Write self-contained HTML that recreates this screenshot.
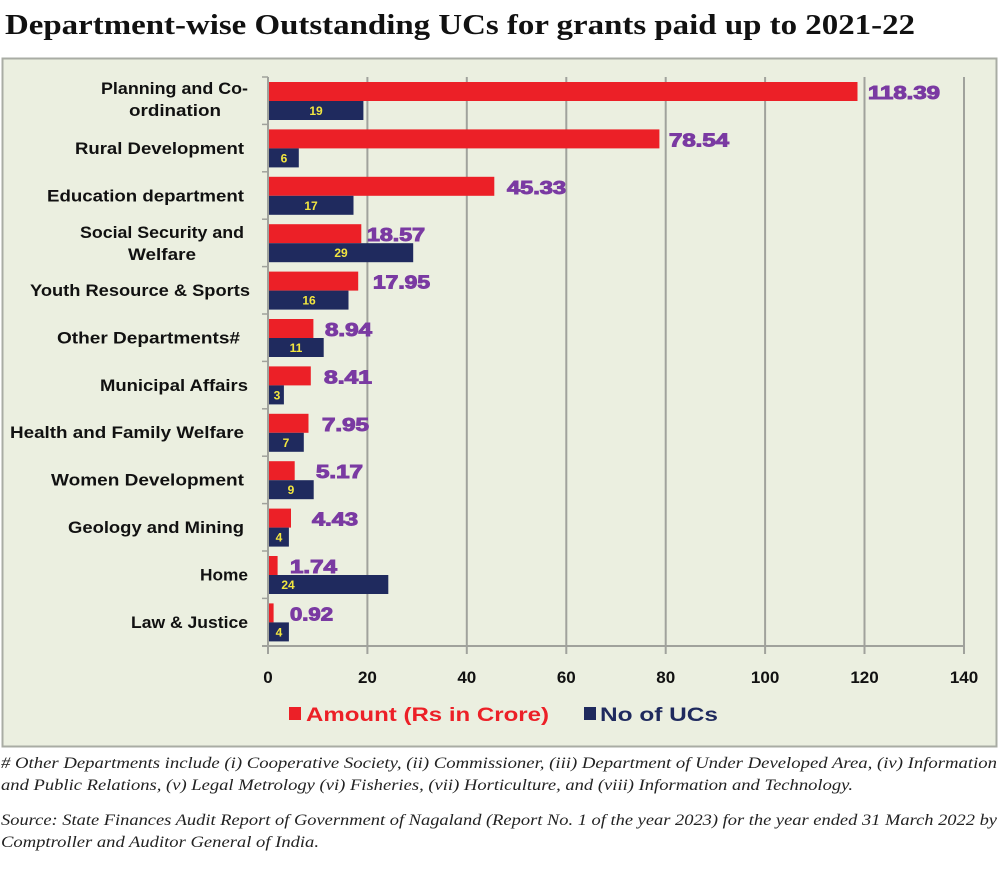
<!DOCTYPE html>
<html><head><meta charset="utf-8"><style>
html,body{margin:0;padding:0;background:#fff;}
svg{display:block}
</style></head><body>
<svg width="1000" height="876" viewBox="0 0 1000 876" xmlns="http://www.w3.org/2000/svg">
<text x="5" y="34" font-family="Liberation Serif, serif" font-weight="bold" font-size="29" fill="#111" textLength="910" lengthAdjust="spacingAndGlyphs">Department-wise Outstanding UCs for grants paid up to 2021-22</text>
<rect x="2.5" y="58.5" width="994" height="688" fill="#ebefe0" stroke="#a9aca4" stroke-width="2"/>
<g stroke="#a0a29c" stroke-width="2">
<line x1="367.4" y1="77" x2="367.4" y2="654"/><line x1="466.8" y1="77" x2="466.8" y2="654"/>
<line x1="566.3" y1="77" x2="566.3" y2="654"/><line x1="665.7" y1="77" x2="665.7" y2="654"/>
<line x1="765.1" y1="77" x2="765.1" y2="654"/><line x1="864.5" y1="77" x2="864.5" y2="654"/>
<line x1="964" y1="77" x2="964" y2="654"/>
<line x1="268" y1="77" x2="268" y2="654"/>
<line x1="262" y1="646" x2="964" y2="646"/>
</g>
<g stroke="#a0a29c" stroke-width="1.5">
<line x1="262" y1="77" x2="268" y2="77"/><line x1="262" y1="124.4" x2="268" y2="124.4"/><line x1="262" y1="171.8" x2="268" y2="171.8"/><line x1="262" y1="219.2" x2="268" y2="219.2"/><line x1="262" y1="266.6" x2="268" y2="266.6"/><line x1="262" y1="314" x2="268" y2="314"/><line x1="262" y1="361.4" x2="268" y2="361.4"/><line x1="262" y1="408.8" x2="268" y2="408.8"/><line x1="262" y1="456.2" x2="268" y2="456.2"/><line x1="262" y1="503.6" x2="268" y2="503.6"/><line x1="262" y1="551" x2="268" y2="551"/><line x1="262" y1="598.4" x2="268" y2="598.4"/>
</g>
<g fill="#ec2027">
<rect x="269" y="82" width="588.5" height="19"/>
<rect x="269" y="129.4" width="390.4" height="19"/>
<rect x="269" y="176.8" width="225.3" height="19"/>
<rect x="269" y="224.2" width="92.3" height="19"/>
<rect x="269" y="271.6" width="89.2" height="19"/>
<rect x="269" y="319" width="44.4" height="19"/>
<rect x="269" y="366.4" width="41.8" height="19"/>
<rect x="269" y="413.8" width="39.5" height="19"/>
<rect x="269" y="461.2" width="25.7" height="19"/>
<rect x="269" y="508.6" width="22" height="19"/>
<rect x="269" y="556" width="8.6" height="19"/>
<rect x="269" y="603.4" width="4.6" height="19"/>
</g>
<g fill="#1f2a5e">
<rect x="269" y="101" width="94.4" height="19"/>
<rect x="269" y="148.4" width="29.8" height="19"/>
<rect x="269" y="195.8" width="84.5" height="19"/>
<rect x="269" y="243.2" width="144.2" height="19"/>
<rect x="269" y="290.6" width="79.5" height="19"/>
<rect x="269" y="338" width="54.7" height="19"/>
<rect x="269" y="385.4" width="14.9" height="19"/>
<rect x="269" y="432.8" width="34.8" height="19"/>
<rect x="269" y="480.2" width="44.7" height="19"/>
<rect x="269" y="527.6" width="19.9" height="19"/>
<rect x="269" y="575" width="119.3" height="19"/>
<rect x="269" y="622.4" width="19.9" height="19"/>
</g>
<g fill="#f2e640" font-family="Liberation Sans, sans-serif" font-weight="bold" font-size="12" text-anchor="middle">
<text x="316" y="115">19</text><text x="284" y="162.4">6</text><text x="311" y="209.8">17</text><text x="341" y="257.2">29</text><text x="309" y="304.6">16</text><text x="296" y="352">11</text><text x="277" y="399.4">3</text><text x="286" y="446.8">7</text><text x="291" y="494.2">9</text><text x="279" y="541.6">4</text><text x="288" y="589">24</text><text x="279" y="636.4">4</text>
</g>
<g fill="#7a3aa2" font-family="Liberation Sans, sans-serif" font-weight="bold" font-size="18" stroke="#7a3aa2" stroke-width="1">
<text x="868" y="99" textLength="72" lengthAdjust="spacingAndGlyphs">118.39</text>
<text x="669" y="146.4" textLength="60" lengthAdjust="spacingAndGlyphs">78.54</text>
<text x="507" y="193.8" textLength="59" lengthAdjust="spacingAndGlyphs">45.33</text>
<text x="367" y="241" textLength="58" lengthAdjust="spacingAndGlyphs">18.57</text>
<text x="373" y="288.6" textLength="57" lengthAdjust="spacingAndGlyphs">17.95</text>
<text x="325" y="336" textLength="47" lengthAdjust="spacingAndGlyphs">8.94</text>
<text x="324" y="383.4" textLength="48" lengthAdjust="spacingAndGlyphs">8.41</text>
<text x="322" y="430.8" textLength="47" lengthAdjust="spacingAndGlyphs">7.95</text>
<text x="316" y="478.2" textLength="47" lengthAdjust="spacingAndGlyphs">5.17</text>
<text x="312" y="525.6" textLength="46" lengthAdjust="spacingAndGlyphs">4.43</text>
<text x="290" y="573" textLength="47" lengthAdjust="spacingAndGlyphs">1.74</text>
<text x="290" y="620.4" textLength="43" lengthAdjust="spacingAndGlyphs">0.92</text>
</g>
<g fill="#111" font-family="Liberation Sans, sans-serif" font-weight="bold" font-size="16.5">
<text x="101" y="94" textLength="147" lengthAdjust="spacingAndGlyphs">Planning and Co-</text>
<text x="129" y="116" textLength="92" lengthAdjust="spacingAndGlyphs">ordination</text>
<text x="75" y="154" textLength="169" lengthAdjust="spacingAndGlyphs">Rural Development</text>
<text x="47" y="201.5" textLength="197" lengthAdjust="spacingAndGlyphs">Education department</text>
<text x="80" y="238" textLength="164" lengthAdjust="spacingAndGlyphs">Social Security and</text>
<text x="128" y="260" textLength="68" lengthAdjust="spacingAndGlyphs">Welfare</text>
<text x="30" y="296" textLength="220" lengthAdjust="spacingAndGlyphs">Youth Resource &amp; Sports</text>
<text x="57" y="343.5" textLength="183" lengthAdjust="spacingAndGlyphs">Other Departments#</text>
<text x="100" y="391" textLength="148" lengthAdjust="spacingAndGlyphs">Municipal Affairs</text>
<text x="10" y="438" textLength="234" lengthAdjust="spacingAndGlyphs">Health and Family Welfare</text>
<text x="51" y="485.5" textLength="193" lengthAdjust="spacingAndGlyphs">Women Development</text>
<text x="68" y="533" textLength="176" lengthAdjust="spacingAndGlyphs">Geology and Mining</text>
<text x="200" y="580.5" textLength="48" lengthAdjust="spacingAndGlyphs">Home</text>
<text x="131" y="628" textLength="117" lengthAdjust="spacingAndGlyphs">Law &amp; Justice</text>
</g>
<g fill="#111" font-family="Liberation Sans, sans-serif" font-weight="bold" font-size="17" text-anchor="middle">
<text x="268" y="683">0</text><text x="367.4" y="683">20</text><text x="466.8" y="683">40</text><text x="566.3" y="683">60</text><text x="665.7" y="683">80</text><text x="765.1" y="683">100</text><text x="864.5" y="683">120</text><text x="964" y="683">140</text>
</g>
<rect x="289" y="707" width="12" height="13" fill="#ec2027"/>
<text x="306" y="721" font-family="Liberation Sans, sans-serif" font-weight="bold" font-size="19" fill="#ec2027" textLength="243" lengthAdjust="spacingAndGlyphs">Amount (Rs in Crore)</text>
<rect x="584" y="707" width="12" height="13" fill="#1f2a5e"/>
<text x="600" y="721" font-family="Liberation Sans, sans-serif" font-weight="bold" font-size="19" fill="#1f2a5e" textLength="118" lengthAdjust="spacingAndGlyphs">No of UCs</text>
<g font-family="Liberation Serif, serif" font-style="italic" font-size="15.5" fill="#222">
<text x="1" y="768" textLength="996" lengthAdjust="spacingAndGlyphs"># Other Departments include (i) Cooperative Society, (ii) Commissioner, (iii) Department of Under Developed Area, (iv) Information</text>
<text x="1" y="790" textLength="852" lengthAdjust="spacingAndGlyphs">and Public Relations, (v) Legal Metrology (vi) Fisheries, (vii) Horticulture, and (viii) Information and Technology.</text>
<text x="1" y="825" textLength="996" lengthAdjust="spacingAndGlyphs">Source: State Finances Audit Report of Government of Nagaland (Report No. 1 of the year 2023) for the year ended 31 March 2022 by</text>
<text x="1" y="847" textLength="318" lengthAdjust="spacingAndGlyphs">Comptroller and Auditor General of India.</text>
</g>
</svg>
</body></html>
